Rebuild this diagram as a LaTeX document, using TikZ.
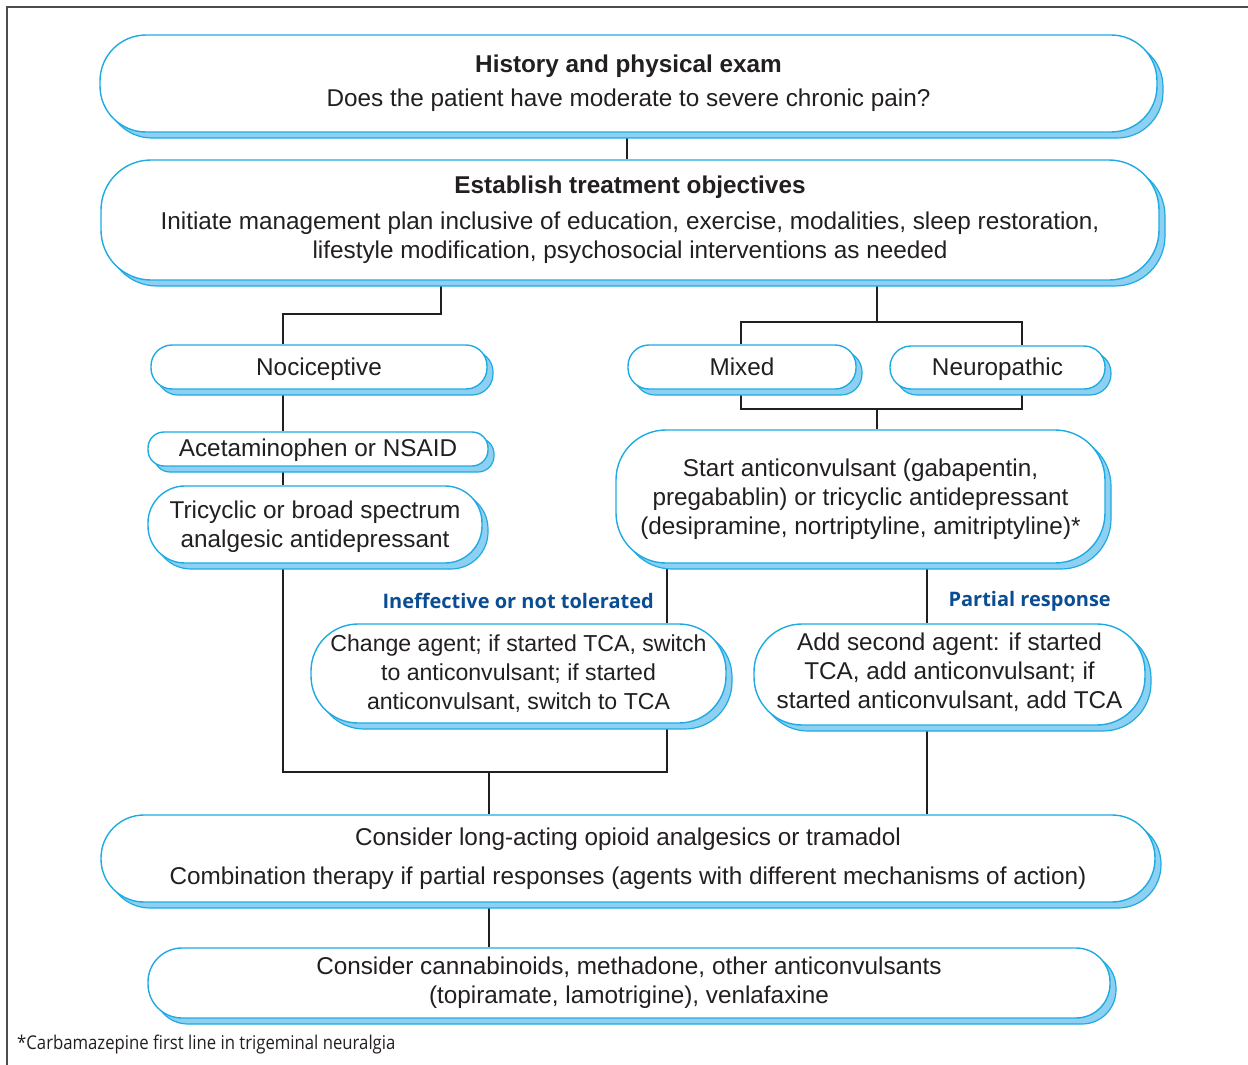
\documentclass[tikz,border=0pt]{standalone}
\usepackage{fontspec}
\setmainfont{Liberation Sans}
\newfontfamily\labelfont{Open Sans}
\newfontfamily\footfont[FakeStretch=0.88]{Open Sans}
\usetikzlibrary{shadows,backgrounds}
\definecolor{boxblue}{HTML}{1EABE3}
\definecolor{shadowblue}{HTML}{8DD0F1}
\definecolor{ink}{HTML}{231F20}
\definecolor{lblblue}{HTML}{0B4D92}
\definecolor{framegray}{HTML}{4D4D4D}
\tikzset{
  box/.style={draw=boxblue, line width=1.4pt, fill=white, inner sep=0pt, align=center,
    text=ink, font=\fontsize{24.3}{29}\selectfont,
    general shadow={fill=shadowblue, draw=boxblue, line width=1.2pt, shadow xshift=6pt, shadow yshift=-6pt}},
  conn/.style={draw=ink, line width=2.4pt},
  lbl/.style={text=lblblue, font=\labelfont\bfseries\fontsize{20}{24}\selectfont, anchor=east, inner sep=0pt}
}
\begin{document}
\begin{tikzpicture}[x=1pt,y=-1pt]
\useasboundingbox (0,0) rectangle (1248,1065);
\draw[framegray, line width=2pt] (7,1065) -- (7,7) -- (1248,7);

\node[box, rounded corners=46pt, minimum width=1057pt, minimum height=97pt] (top) at (628.5,83.5)
  {\textbf{History and physical exam}\\[5pt]Does the patient have moderate to severe chronic pain?};
\node[box, rounded corners=50pt, minimum width=1058pt, minimum height=120pt] (obj) at (630,220)
  {\textbf{Establish treatment objectives}\\[7pt]Initiate management plan inclusive of education, exercise, modalities, sleep restoration,\\lifestyle modification, psychosocial interventions as needed};
\node[box, rounded corners=21pt, minimum width=336pt, minimum height=44pt, text depth=-1pt] (noci) at (319,367) {Nociceptive};
\node[box, rounded corners=16pt, minimum width=340pt, minimum height=34pt, text depth=3pt] (acet) at (318,449) {Acetaminophen or NSAID};
\node[box, rounded corners=37pt, minimum width=334pt, minimum height=77pt, text depth=-2pt] (tri) at (315,524.5)
  {Tricyclic or broad spectrum\\analgesic antidepressant};
\node[box, rounded corners=21pt, minimum width=228pt, minimum height=44pt, text depth=-4pt] (mixed) at (742,367) {Mixed};
\node[box, rounded corners=21pt, minimum width=215pt, minimum height=43pt, text depth=1pt] (neuro) at (997.5,367.5) {Neuropathic};
\node[box, rounded corners=50pt, minimum width=489pt, minimum height=133pt, text depth=-5pt] (start) at (860.5,496.5)
  {Start anticonvulsant (gabapentin,\\pregabablin) or tricyclic antidepressant\\(desipramine, nortriptyline, amitriptyline)*};
\node[box, rounded corners=47pt, minimum width=415pt, minimum height=99pt, font=\fontsize{23.1}{29}\selectfont] (change) at (518.5,673.5)
  {Change agent; if started TCA, switch\\to anticonvulsant; if started\\anticonvulsant, switch to TCA};
\node[box, rounded corners=48pt, minimum width=391pt, minimum height=101pt, text depth=7.5pt] (add) at (949.5,674.5)
  {Add second agent: if started\\TCA, add anticonvulsant; if\\started anticonvulsant, add TCA};
\node[box, rounded corners=43pt, minimum width=1054pt, minimum height=87pt] (long) at (628,858.5)
  {Consider long-acting opioid analgesics or tramadol\\[10pt]Combination therapy if partial responses (agents with different mechanisms of action)};
\node[box, rounded corners=34pt, minimum width=962pt, minimum height=70pt] (cann) at (629,983)
  {Consider cannabinoids, methadone, other anticonvulsants\\(topiramate, lamotrigine), venlafaxine};

\node[lbl] (l1) at (654,601) {Ineffective or not tolerated};
\node[lbl] (l2) at (1111,601) {Partial response};
\node[anchor=west, inner sep=0pt, text=ink, font=\footfont\fontsize{19}{21}\selectfont] (fn) at (17,1045)
  {*Carbamazepine first line in trigeminal neuralgia};

\coordinate (xa) at (441,314);
\coordinate (xn) at (283,314);
\coordinate (xm) at (877,322);
\coordinate (xl) at (741,322);
\coordinate (xr) at (1022,322);
\coordinate (xb) at (877,409);
\coordinate (xc) at (667,772);
\coordinate (xd) at (489,772);
\coordinate (xe) at (927,772);

\begin{scope}[on background layer]
\draw[conn] (top.south -| 627,0) -- (obj.north -| 627,0);
\draw[conn] (obj.south -| xa) -- (xa) -- (xn) -- (noci.north -| xn);
\draw[conn] (obj.south -| xm) -- (xm);
\draw[conn] (mixed.north -| xl) -- (xl) -- (xr) -- (neuro.north -| xr);
\draw[conn] (mixed.south -| xl) -- (xl |- xb) -- (xr |- xb) -- (neuro.south -| xr);
\draw[conn] (xb) -- (start.north -| xb);
\draw[conn] (noci.south -| xn) -- (acet.north -| xn);
\draw[conn] (acet.south -| xn) -- (tri.north -| xn);
\draw[conn] (tri.south -| xn) -- (xn |- xc) -- (xc) -- (change.south -| xc);
\draw[conn] (start.south -| xc) -- (change.north -| xc);
\draw[conn] (xd) -- (long.north -| xd);
\draw[conn] (start.south -| xe) -- (add.north -| xe);
\draw[conn] (add.south -| xe) -- (long.north -| xe);
\draw[conn] (long.south -| xd) -- (cann.north -| xd);
\end{scope}
\end{tikzpicture}
\end{document}
